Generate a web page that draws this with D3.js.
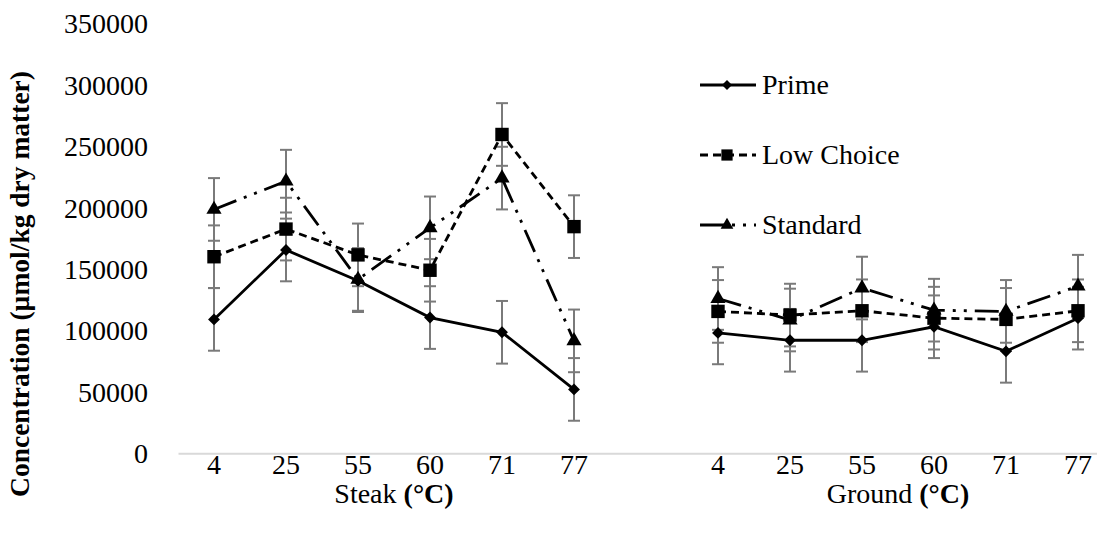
<!DOCTYPE html>
<html>
<head>
<meta charset="utf-8">
<script src="https://cdn.jsdelivr.net/npm/d3@7/dist/d3.min.js"></script>
<style>
  html, body { margin: 0; padding: 0; background: #fff; }
  svg { display: block; font-family: "Liberation Serif", "Times New Roman", serif; }
</style>
</head>
<body>
<svg id="chart" width="1097" height="535"></svg>
<script>
// Temperatures for each product group
const steakTemps = ["4", "25", "55", "60", "71", "77"];
const groundTemps = ["4", "25", "55", "60", "71", "77"];
const groupTitles = ["Steak", "Ground"];

// Mean concentrations (µmol/kg dry matter): 6 steak values then 6 ground values
const primeValues     = [109000, 165500, 140500, 110500, 98500, 52000,  98000, 92000, 92000, 103000, 83000, 110000];
const lowChoiceValues = [160000, 182500, 161500, 149000, 259500, 184500, 115500, 112500, 116000, 110000, 109000, 116000];
const standardValues  = [198500, 221500, 141500, 183500, 224000, 91500, 126000, 108500, 134500, 116500, 115500, 136000];

// Standard errors
const primeSE     = [25500, 25500, 25500, 25500, 25500, 25500, 25500, 25500, 25500, 25500, 25500, 25500];
const lowChoiceSE = [25500, 25500, 25500, 25500, 25500, 25500, 25500, 25500, 25500, 25500, 25500, 25500];
const standardSE  = [25500, 25500, 25500, 25500, 25500, 25500, 25500, 25500, 25500, 25500, 25500, 25500];

const yTicks = [0, 50000, 100000, 150000, 200000, 250000, 300000, 350000];
const yTitle = "Concentration (µmol/kg dry matter)";

const seriesNames = ["Prime", "Low Choice", "Standard"];

const FONT = "Liberation Serif, Times New Roman, serif";
const FS = 28;

// Category slots: steak temps, one empty slot, ground temps
const slots = [
  ...steakTemps.map((t, i) => ({ key: "s" + i, label: t })),
  { key: "gap", label: "" },
  ...groundTemps.map((t, i) => ({ key: "g" + i, label: t }))
];
const dataKeys = slots.filter(s => s.key !== "gap").map(s => s.key);

const svg = d3.select("#chart");

const x = d3.scaleBand().domain(slots.map(s => s.key)).range([178, 1114]);
const cx = k => x(k) + x.bandwidth() / 2;
const y = d3.scaleLinear().domain([0, 350000]).range([453.3, 23.3]);

// Y tick labels (no axis line)
const yAxis = d3.axisLeft(y).tickValues(yTicks).tickSize(0).tickPadding(0).tickFormat(d3.format("d"));
const gy = svg.append("g").attr("transform", "translate(148,0)").call(yAxis);
gy.select(".domain").remove();
gy.attr("font-family", FONT).attr("font-size", FS);
gy.selectAll("text").attr("fill", "#000").attr("dy", "0.34em");

// X axis baseline and temperature labels
const xAxis = d3.axisBottom(x).tickSize(0).tickPadding(0).tickFormat(k => slots.find(s => s.key === k).label);
const gx = svg.append("g").attr("transform", `translate(0,${y(0)})`).call(xAxis);
gx.select(".domain").attr("stroke", "#d9d9d9").attr("stroke-width", 2);
gx.attr("font-family", FONT).attr("font-size", FS);
gx.selectAll("text").attr("fill", "#000").attr("dy", null).attr("y", 21);

// Group titles under each half
[steakTemps, groundTemps].forEach((temps, gi) => {
  const keys = temps.map((t, i) => (gi === 0 ? "s" : "g") + i);
  const mid = (cx(keys[0]) + cx(keys[keys.length - 1])) / 2;
  const t = svg.append("text").attr("x", mid).attr("y", 503)
    .attr("text-anchor", "middle").attr("font-size", FS).attr("fill", "#000");
  t.append("tspan").text(groupTitles[gi] + " ");
  t.append("tspan").attr("font-weight", "bold").text("(°C)");
});

// Y axis title
svg.append("text")
  .attr("transform", "translate(29,284) rotate(-90)")
  .attr("text-anchor", "middle")
  .attr("font-size", 27.5).attr("font-weight", "bold").attr("fill", "#000")
  .text(yTitle);

// Series definitions
const series = [
  { name: seriesNames[0], values: primeValues, se: primeSE, dash: null, marker: d3.symbolDiamond2, size: 90 },
  { name: seriesNames[1], values: lowChoiceValues, se: lowChoiceSE, dash: "8,5", marker: d3.symbolSquare, size: 180 },
  { name: seriesNames[2], values: standardValues, se: standardSE, dash: "24,8,3,8,3,8", marker: d3.symbolTriangle, size: 100 }
];

const line = d3.line().x(d => cx(d.key)).y(d => y(d.v));

// Error bars
const errLayer = svg.append("g");
series.forEach(s => {
  const pts = dataKeys.map((k, i) => ({ key: k, v: s.values[i], e: s.se[i] }));
  const g = errLayer.append("g").attr("stroke", "#7a7a7a").attr("stroke-width", 2).attr("fill", "none");
  g.selectAll("line.v").data(pts).join("line")
    .attr("x1", d => cx(d.key)).attr("x2", d => cx(d.key))
    .attr("y1", d => y(d.v - d.e)).attr("y2", d => y(d.v + d.e));
  g.selectAll("line.t").data(pts).join("line")
    .attr("x1", d => cx(d.key) - 6).attr("x2", d => cx(d.key) + 6)
    .attr("y1", d => y(d.v + d.e)).attr("y2", d => y(d.v + d.e));
  g.selectAll("line.b").data(pts).join("line")
    .attr("x1", d => cx(d.key) - 6).attr("x2", d => cx(d.key) + 6)
    .attr("y1", d => y(d.v - d.e)).attr("y2", d => y(d.v - d.e));
});

// Lines and markers, steak and ground drawn as separate segments
const lineLayer = svg.append("g");
series.forEach(s => {
  const pts = dataKeys.map((k, i) => ({ key: k, v: s.values[i] }));
  const groups = [pts.slice(0, 6), pts.slice(6)];
  groups.forEach(gp => {
    lineLayer.append("path").datum(gp)
      .attr("d", line).attr("fill", "none").attr("stroke", "#000")
      .attr("stroke-width", 2.8).attr("stroke-dasharray", s.dash);
  });
  lineLayer.append("g").selectAll("path").data(pts).join("path")
    .attr("transform", d => `translate(${cx(d.key)},${y(d.v)})`)
    .attr("d", d3.symbol(s.marker, s.size)).attr("fill", "#000");
});

// Legend
const legendY = [85, 155, 225];
const legend = svg.append("g");
series.forEach((s, i) => {
  const g = legend.append("g").attr("transform", `translate(0,${legendY[i]})`);
  g.append("line").attr("x1", 700).attr("x2", 756).attr("y1", 0).attr("y2", 0)
    .attr("stroke", "#000").attr("stroke-width", 2.8).attr("stroke-dasharray", s.dash);
  g.append("path").attr("transform", "translate(727,0)")
    .attr("d", d3.symbol(s.marker, s.size * 0.7)).attr("fill", "#000");
  g.append("text").attr("x", 762).attr("y", 9).attr("font-size", FS).attr("fill", "#000").text(s.name);
});
</script>
</body>
</html>
